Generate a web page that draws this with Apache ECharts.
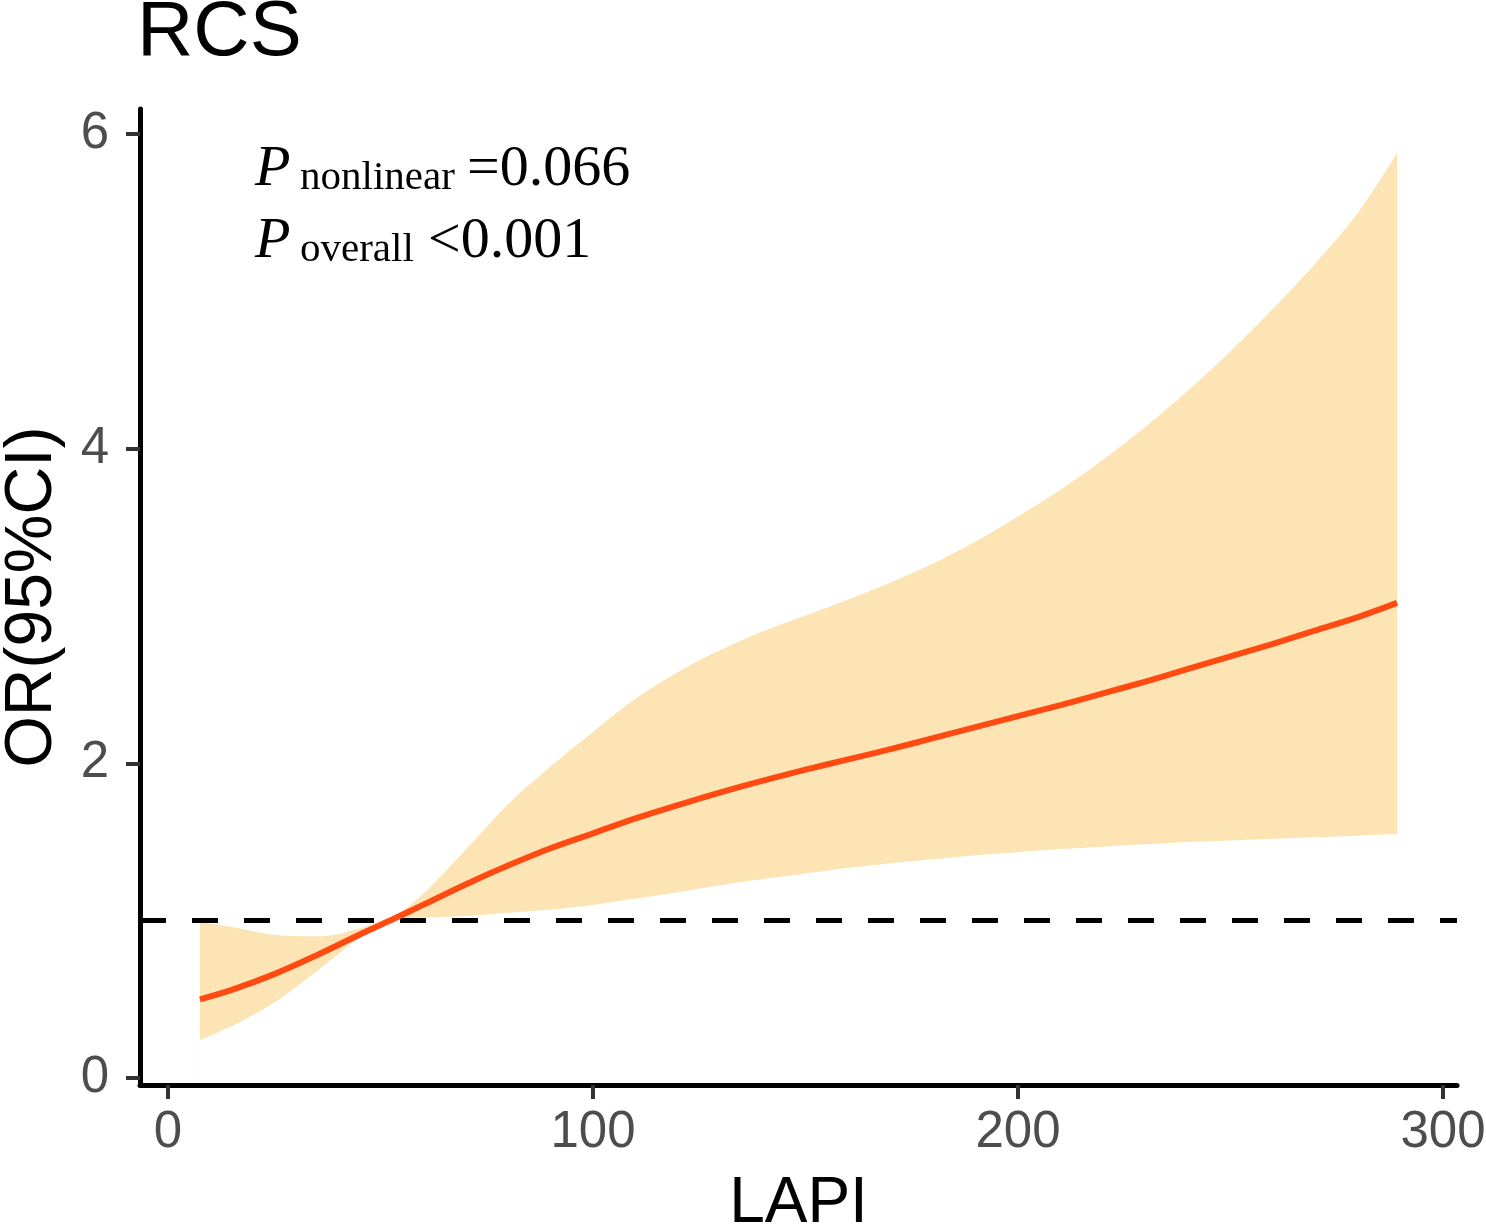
<!DOCTYPE html>
<html>
<head>
<meta charset="utf-8">
<title>RCS</title>
<script src="https://cdn.jsdelivr.net/npm/echarts@6/dist/echarts.min.js"></script>
<style>
  html, body { margin: 0; padding: 0; background: #fff; }
  #chart { width: 1486px; height: 1228px; }
</style>
</head>
<body>
<div id="chart"></div>
<script>
// LAPI 取值点
var lapi = [7.5, 15, 25, 35, 45, 53, 60, 70, 80, 90, 100, 110, 120, 130, 140, 150,
    160, 170, 180, 190, 200, 210, 220, 230, 240, 250, 260, 270, 280, 289.2];
// OR 估计值
var orValues = [0.50, 0.56, 0.66, 0.78, 0.91, 1.01, 1.10, 1.23, 1.35, 1.46, 1.555, 1.65, 1.735, 1.815, 1.89, 1.96,
    2.025, 2.09, 2.16, 2.23, 2.30, 2.37, 2.445, 2.52, 2.60, 2.68, 2.76, 2.845, 2.93, 3.02];
// 95%CI 下限
var ciLower = [0.24, 0.33, 0.48, 0.68, 0.89, 1.01, 1.02, 1.03, 1.05, 1.07, 1.10, 1.14, 1.18, 1.225, 1.265, 1.30,
    1.335, 1.365, 1.39, 1.415, 1.435, 1.455, 1.47, 1.485, 1.50, 1.51, 1.52, 1.53, 1.54, 1.55];
// 95%CI 上限
var ciUpper = [0.99, 0.96, 0.91, 0.90, 0.95, 1.03, 1.17, 1.45, 1.74, 1.98, 2.20, 2.41, 2.58, 2.72, 2.84, 2.94,
    3.04, 3.15, 3.27, 3.41, 3.57, 3.74, 3.93, 4.14, 4.37, 4.62, 4.89, 5.18, 5.50, 5.88];
var xTicks = [0, 100, 200, 300];
var yTicks = [0, 2, 4, 6];
var refValue = 1;

var chart = echarts.init(document.getElementById("chart"), null, { renderer: "canvas" });

var lowerData = [], upperData = [], lineData = [];
for (var i = 0; i < lapi.length; i++) {
    lowerData.push([lapi[i], ciLower[i]]);
    upperData.push([lapi[i], ciUpper[i]]);
    lineData.push([lapi[i], orValues[i]]);
}

var sans = "'Liberation Sans', Arial, sans-serif";
var serif = "'Liberation Serif', 'Times New Roman', serif";
var bandColor = "#FDE4B5";

// 坐标轴公共样式
function axisCommon(ticks, margin) {
    return {
        axisLine: { show: true, onZero: false, lineStyle: { color: "#000", width: 5 } },
        axisTick: { show: true, length: 14, customValues: ticks, lineStyle: { color: "#333", width: 4 } },
        axisLabel: { customValues: ticks, color: "#4d4d4d", fontSize: 51, fontFamily: sans, margin: margin },
        splitLine: { show: false }
    };
}

var xAxis = axisCommon(xTicks, 22);
xAxis.type = "value";
xAxis.min = -6.6;
xAxis.max = 303.3;
xAxis.z = 10;
xAxis.name = "LAPI";
xAxis.nameLocation = "middle";
xAxis.nameGap = 87;
xAxis.nameTextStyle = { color: "#000", fontSize: 64, fontFamily: sans };

var yAxis = axisCommon(yTicks, 31);
yAxis.type = "value";
yAxis.min = -0.045;
yAxis.max = 6.16;
yAxis.z = 10;
yAxis.name = "OR(95%CI)";
yAxis.nameLocation = "middle";
yAxis.nameGap = 74;
yAxis.nameTextStyle = { color: "#000", fontSize: 66, fontFamily: sans };

var option = {
    backgroundColor: "#fff",
    animation: false,
    grid: {
        left: 140,
        right: 29,
        top: 109,
        bottom: 143,
        outerBoundsMode: "none"
    },
    xAxis: xAxis,
    yAxis: yAxis,
    series: [{
        // 置信区间上限，向下填充
        name: "upper",
        type: "line",
        smooth: 0.35,
        symbol: "none",
        silent: true,
        lineStyle: { width: 0, color: bandColor },
        areaStyle: { color: bandColor, opacity: 1, origin: "start" },
        z: 1,
        data: upperData
    }, {
        // 置信区间下限以下用白色覆盖
        name: "lower",
        type: "line",
        smooth: 0.35,
        symbol: "none",
        silent: true,
        lineStyle: { width: 0, color: "#fff" },
        areaStyle: { color: "#fff", opacity: 1, origin: "start" },
        z: 2,
        data: lowerData
    }, {
        name: "OR",
        type: "line",
        smooth: 0.35,
        symbol: "none",
        lineStyle: { color: "#FF4A12", width: 6 },
        z: 5,
        data: lineData,
        markLine: {
            silent: true,
            symbol: ["none", "none"],
            label: { show: false },
            lineStyle: { color: "#000", width: 5, type: [26, 26] },
            data: [{ yAxis: refValue }],
            z: 4
        }
    }],
    graphic: [
        { type: "text", z: 100, x: 137, y: 33, style: { text: "RCS", font: "78px " + sans, fill: "#000", verticalAlign: "middle" } },
        { type: "text", z: 100, x: 255, y: 170, style: { text: "P", font: "italic 58px " + serif, fill: "#000", verticalAlign: "middle" } },
        { type: "text", z: 100, x: 300, y: 178, style: { text: "nonlinear", font: "41px " + serif, fill: "#000", verticalAlign: "middle" } },
        { type: "text", z: 100, x: 467, y: 170, style: { text: "=0.066", font: "58px " + serif, fill: "#000", verticalAlign: "middle" } },
        { type: "text", z: 100, x: 255, y: 242, style: { text: "P", font: "italic 58px " + serif, fill: "#000", verticalAlign: "middle" } },
        { type: "text", z: 100, x: 300, y: 250, style: { text: "overall", font: "41px " + serif, fill: "#000", verticalAlign: "middle" } },
        { type: "text", z: 100, x: 428, y: 242, style: { text: "<0.001", font: "58px " + serif, fill: "#000", verticalAlign: "middle" } }
    ]
};

chart.setOption(option);
</script>
</body>
</html>
